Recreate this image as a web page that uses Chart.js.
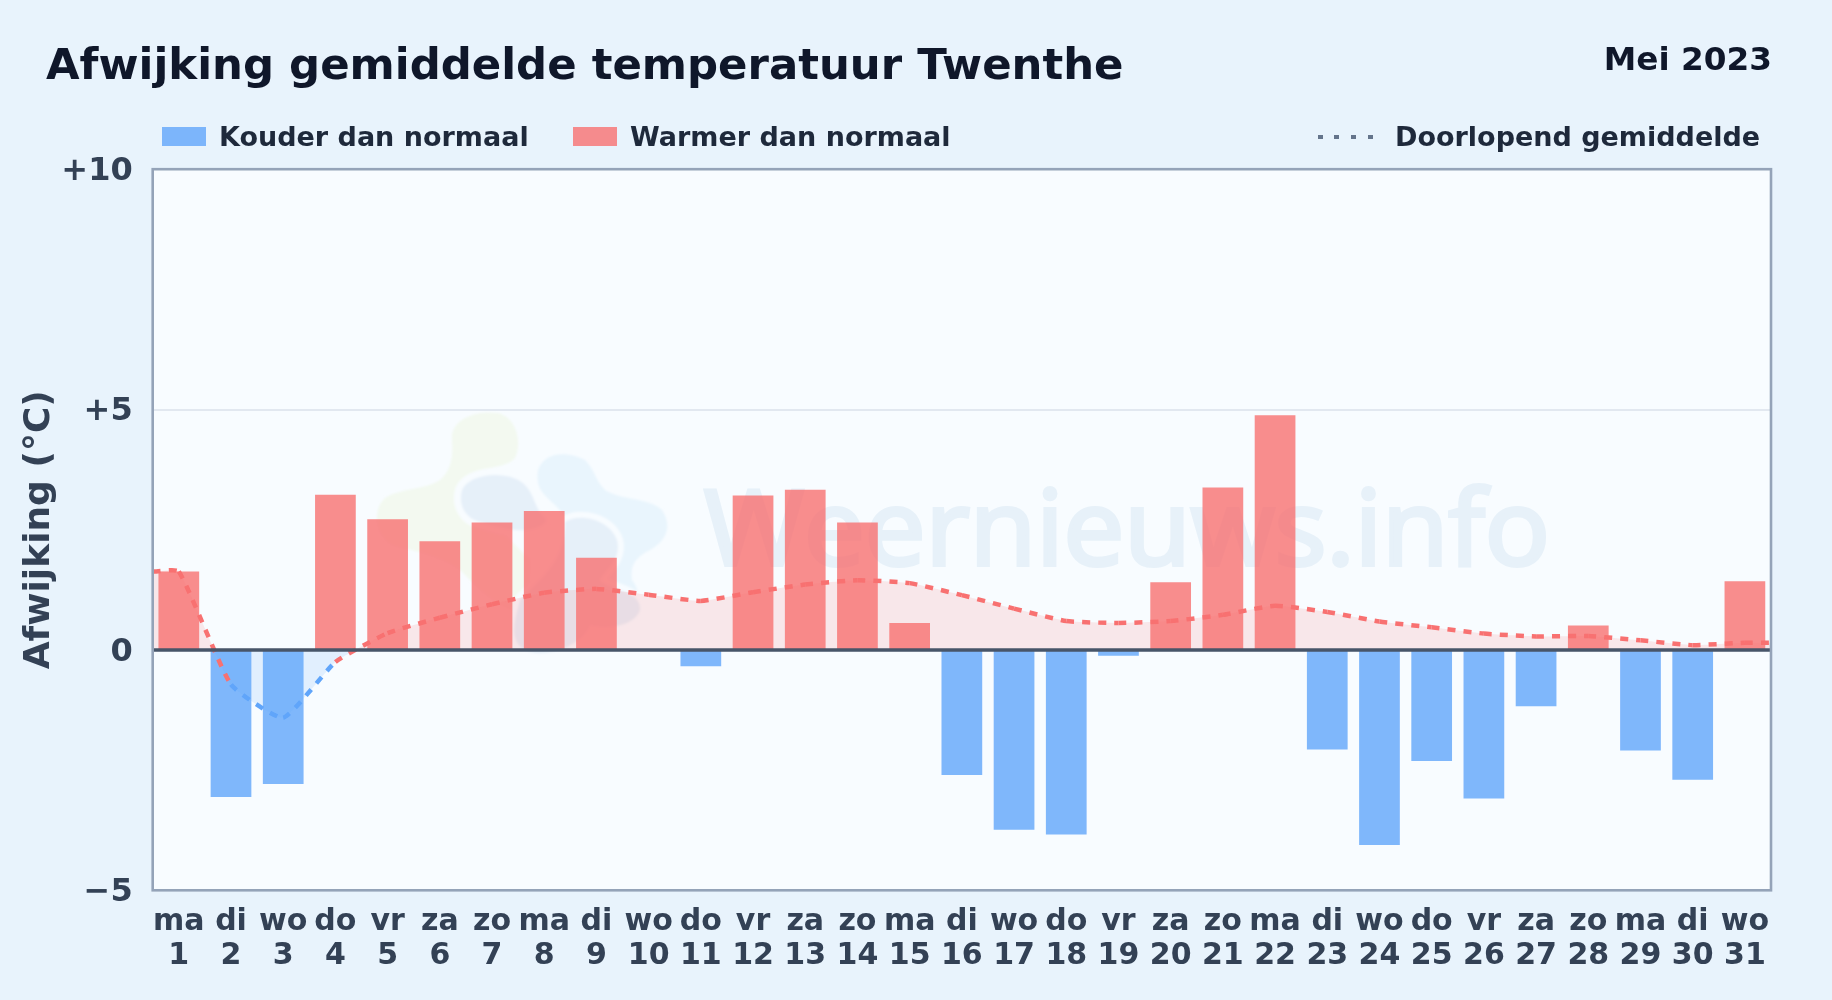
<!DOCTYPE html>
<html lang="nl">
<head>
<meta charset="utf-8">
<title>Afwijking gemiddelde temperatuur Twenthe</title>
<script src="https://cdn.jsdelivr.net/npm/chart.js@4"></script>
<style>
html,body{margin:0;padding:0;width:1832px;height:1000px;overflow:hidden;background:#e8f3fc;font-family:"DejaVu Sans",sans-serif;font-weight:700}
#plotbg{position:absolute;left:152px;top:169px;width:1619px;height:721px;background:#f8fcff}
#wm{position:absolute;left:0;top:0}
canvas#c{position:absolute;left:0;top:0}
.t{position:absolute;white-space:nowrap;line-height:1}
#title{left:46px;top:43px;font-size:43.4px;color:#0f172a}
#sub{right:60px;top:42.6px;font-size:32.7px;color:#0f172a}
.lg{top:123px;font-size:27px;color:#1e293b}
.sw{position:absolute;top:127px;height:19px;width:44px}
.dot{position:absolute;top:135px;width:5px;height:4px;background:#64748b}
</style>
</head>
<body>
<div id="plotbg"></div>
<svg id="wm" width="1832" height="1000" viewBox="0 0 1832 1000">
  <defs><filter id="soft"><feGaussianBlur stdDeviation="1"/></filter></defs>
  <g filter="url(#soft)">
    <path fill="#f3f9f0" d="M452 440C450 418 478 410 498 413C518 418 522 445 515 458C505 470 480 465 465 478L470 500L530 560C530 590 525 605 520 612C500 610 480 590 460 570C440 555 410 550 392 545C375 535 372 510 385 498C400 488 425 490 440 480C452 470 453 455 452 440Z"/>
    <path fill="#e9f5fd" d="M538 470C545 450 570 452 585 460C595 470 595 480 605 490C620 500 650 498 662 510C672 525 668 540 650 550C635 558 630 565 632 580C640 590 640 600 630 610C610 620 590 600 590 580C590 550 570 520 555 505C545 495 535 490 538 470Z"/>
    <path fill="#e6f0f9" stroke="#f8fcff" stroke-width="14" paint-order="stroke" d="M462 490C470 472 510 470 525 485C535 495 535 510 545 518C550 525 530 532 515 530C500 528 490 525 480 522C465 518 458 505 462 490Z"/>
    <path fill="#e6f0f9" stroke="#f8fcff" stroke-width="12" paint-order="stroke" d="M565 522C580 512 610 520 617 540C622 560 605 570 600 580C608 590 642 590 640 610C635 625 610 630 590 625C585 640 560 655 535 653C505 648 515 620 520 600C545 575 565 560 565 522Z"/>
  </g>
  <text x="704" y="565" font-family="Open Sans" font-weight="400" font-size="104" fill="#e7f1f9" stroke="#e7f1f9" stroke-width="4" textLength="846" lengthAdjust="spacingAndGlyphs">Weernieuws.info</text>
</svg>
<canvas id="c" width="1832" height="1000" role="img" aria-label="Afwijking gemiddelde temperatuur Twenthe, Mei 2023"></canvas>
<div class="t" id="title">Afwijking gemiddelde temperatuur Twenthe</div>
<div class="t" id="sub">Mei 2023</div>
<div class="sw" style="left:162px;background:rgba(96,165,250,.8)"></div>
<div class="t lg" style="left:219px">Kouder dan normaal</div>
<div class="sw" style="left:573px;background:rgba(248,113,113,.8)"></div>
<div class="t lg" style="left:630px">Warmer dan normaal</div>
<div class="dot" style="left:1318px"></div><div class="dot" style="left:1334px"></div><div class="dot" style="left:1351px"></div><div class="dot" style="left:1368px"></div>
<div class="t lg" style="left:1395px">Doorlopend gemiddelde</div>
<script>
const weekdays = ['ma','di','wo','do','vr','za','zo','ma','di','wo','do','vr','za','zo','ma','di','wo','do','vr','za','zo','ma','di','wo','do','vr','za','zo','ma','di','wo'];
const dayNumbers = ['1','2','3','4','5','6','7','8','9','10','11','12','13','14','15','16','17','18','19','20','21','22','23','24','25','26','27','28','29','30','31'];
const colderValues = [null,-3.06,-2.79,null,null,null,null,null,null,null,-0.34,null,null,null,null,-2.6,-3.74,-3.84,-0.12,null,null,null,-2.07,-4.06,-2.31,-3.09,-1.17,null,-2.09,-2.7,null];
const warmerValues = [1.63,null,null,3.23,2.72,2.26,2.65,2.89,1.92,null,null,3.21,3.33,2.65,0.56,null,null,null,null,1.41,3.38,4.88,null,null,null,null,null,0.51,null,null,1.43];
const runningDays = [0.5,1,2,3,4,5,6,7,8,9,10,11,12,13,14,15,16,17,18,19,20,21,22,23,24,25,26,27,28,29,30,31,31.5];
const runningMean = [1.63,1.63,-0.72,-1.41,-0.25,0.35,0.67,0.95,1.19,1.27,1.15,1.02,1.2,1.36,1.45,1.39,1.14,0.86,0.6,0.56,0.6,0.73,0.92,0.79,0.59,0.47,0.34,0.28,0.29,0.2,0.1,0.15,0.15];
const yTickLabels = {'10':'+10','5':'+5','0':'0','-5':'−5'};

const RED='#f87171', BLUE='#60a5fa', INK='#334155';
const TENSION=0.15;
const runningPoints=runningDays.map((d,i)=>({x:d,y:runningMean[i]}));
const frame = {
  id:'frame',
  afterDatasetsDraw(ch){
    const {ctx,chartArea:a,scales:{y}}=ch, z=y.getPixelForValue(0);
    ctx.save();
    ctx.strokeStyle='#475569';ctx.lineWidth=3.6;
    ctx.beginPath();ctx.moveTo(a.left,z);ctx.lineTo(a.right,z);ctx.stroke();
    ctx.strokeStyle='#94a3b8';ctx.lineWidth=2.6;
    ctx.strokeRect(a.left,a.top,a.right-a.left,a.bottom-a.top);
    ctx.restore();
  }
};
new Chart(document.getElementById('c'),{
  data:{
    labels:weekdays.map((d,i)=>[d,dayNumbers[i]]),
    datasets:[
      {type:'line',label:'Doorlopend gemiddelde',order:0,xAxisID:'xLine',
       data:runningPoints,
       borderColor:RED,borderWidth:4.5,borderDash:[8,8],
       pointRadius:0,tension:TENSION,fill:false,
       segment:{borderColor:c=>(c.p0.parsed.y<0&&c.p1.parsed.y<0)?BLUE:RED,
                borderDashOffset:c=>c.p0DataIndex*1e-6}},
      {type:'line',label:'Gebied',order:0.5,xAxisID:'xLine',
       data:runningPoints,borderWidth:0,pointRadius:0,tension:TENSION,
       fill:{target:{value:0},above:'rgba(248,113,113,0.15)',below:'rgba(96,165,250,0.15)'}},
      {type:'bar',label:'Kouder dan normaal',order:1,data:colderValues,backgroundColor:'rgba(96,165,250,.8)',grouped:false,categoryPercentage:1,barPercentage:.78},
      {type:'bar',label:'Warmer dan normaal',order:1,data:warmerValues,backgroundColor:'rgba(248,113,113,.8)',grouped:false,categoryPercentage:1,barPercentage:.78}
    ]
  },
  options:{
    responsive:false,animation:false,devicePixelRatio:1,
    layout:{padding:{top:169.2,right:61,left:0,bottom:0}},
    plugins:{legend:{display:false},tooltip:{enabled:false}},
    scales:{
      x:{type:'category',grid:{display:false},border:{display:false},
         afterFit(s){s.height=109.7},
         ticks:{color:INK,font:{family:'DejaVu Sans',weight:'700',size:30,lineHeight:1.13},maxRotation:0,minRotation:0,autoSkip:false,padding:7}},
      xLine:{type:'linear',display:false,min:0.5,max:31.5},
      y:{min:-5,max:10,grid:{color:c=>c.tick.value===5?'#e2e8f0':'transparent',lineWidth:2,drawTicks:false},border:{display:false},
         afterFit(s){s.width=152.7},
         ticks:{stepSize:5,color:INK,padding:20,font:{family:'DejaVu Sans',weight:'700',size:32,lineHeight:'5px'},callback:v=>['',yTickLabels[String(v)]]},
         title:{display:true,text:'Afwijking (°C)',color:INK,font:{family:'DejaVu Sans',weight:'700',size:36},padding:{top:18,bottom:0}}}
    }
  },
  plugins:[frame]
});
</script>
</body>
</html>
